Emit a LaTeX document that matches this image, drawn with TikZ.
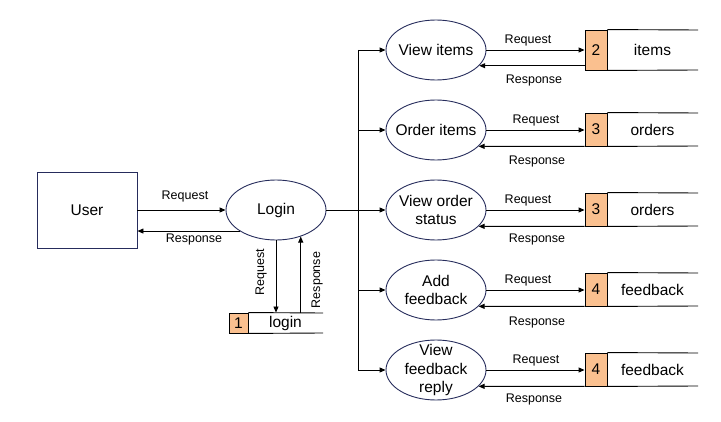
\documentclass[tikz,border=0pt]{standalone}
\usepackage{fontspec}
\setmainfont{Liberation Sans}
\usetikzlibrary{arrows.meta,shapes.geometric}
\definecolor{navy}{RGB}{38,44,92}
\definecolor{storefill}{RGB}{250,192,143}
\tikzset{
  proc/.style={ellipse,draw=navy,line width=0.9pt,minimum width=100pt,minimum height=60pt,inner xsep=-20pt,inner ysep=-20pt,align=center,font=\fontsize{15.5}{18.5}\selectfont},
  ent/.style={rectangle,draw=navy,line width=0.9pt,minimum width=100pt,minimum height=76pt,inner sep=0pt,font=\fontsize{15.5}{18.5}\selectfont},
  numbox/.style={rectangle,draw=black,fill=storefill,line width=0.9pt,inner sep=0pt,font=\fontsize{15.5}{18.5}\selectfont},
  stxt/.style={inner sep=0pt,font=\fontsize{15.5}{18.5}\selectfont},
  lbl/.style={inner sep=0pt,font=\fontsize{12.5}{14}\selectfont},
  arr/.style={line width=0.9pt,-{Triangle[length=6pt,width=5pt]}},
  ln/.style={line width=0.9pt},
}
\begin{document}
\begin{tikzpicture}[x=1pt,y=-1pt]
\useasboundingbox (0,0) rectangle (721,422);
% entities and processes
\node[ent] (user) at (87,210) {User};
\node[proc] (login) at (276,210) {Login};
\node[proc] (vi) at (436,50) {View items};
\node[proc] (oi) at (436,130) {Order items};
\node[proc] (vos) at (436,210) {View order\\status};
\node[proc] (af) at (436,290) {Add\\feedback};
\node[proc] (vfr) at (436,370) {View\\feedback\\reply};
% login store
\node[numbox,minimum width=19pt,minimum height=20pt] (n1) at (238.5,323) {1};
\node[stxt] (t1) at (285.5,323) {login};
\draw[ln] (n1.north east) -- (323,313);
\draw[ln] (n1.south east) -- (323,333);
% data stores
\node[numbox,minimum width=22pt,minimum height=40pt] (n2) at (596,50) {2};
\node[stxt] (t2) at (652.5,50) {items};
\draw[ln] (n2.north east) -- (698,30);
\draw[ln] (n2.south east) -- (698,70);
\node[numbox,minimum width=22pt,minimum height=33pt] (n3) at (596,129.5) {3};
\node[stxt] (t3) at (652.5,129.5) {orders};
\draw[ln] (n3.north east) -- (698,113);
\draw[ln] (n3.south east) -- (698,146);
\node[numbox,minimum width=22pt,minimum height=33pt] (n3b) at (596,209.5) {3};
\node[stxt] (t3b) at (652.5,209.5) {orders};
\draw[ln] (n3b.north east) -- (698,193);
\draw[ln] (n3b.south east) -- (698,226);
\node[numbox,minimum width=22pt,minimum height=33pt] (n4) at (596,289.5) {4};
\node[stxt] (t4) at (652.5,289.5) {feedback};
\draw[ln] (n4.north east) -- (698,273);
\draw[ln] (n4.south east) -- (698,306);
\node[numbox,minimum width=22pt,minimum height=33pt] (n4b) at (596,369.5) {4};
\node[stxt] (t4b) at (652.5,369.5) {feedback};
\draw[ln] (n4b.north east) -- (698,353);
\draw[ln] (n4b.south east) -- (698,386);
% user <-> login
\draw[arr] (user.east) -- (login.west);
\draw[arr] (login.-150) -- (user.east |- login.-150);
\node[lbl] (lq0) at (185,196.5) {Request};
\node[lbl] (lr0) at (194,239) {Response};
% login <-> login store
\draw[arr] (login.south) -- (login.south |- n1.north);
\draw[arr] (login.-47.6 |- n1.north) -- (login.-47.6);
\node[lbl,rotate=90] (lq1) at (261,272) {Request};
\node[lbl,rotate=90] (lr1) at (317,280) {Response};
% trunk
\coordinate (tj) at (358,210);
\coordinate (ttop) at (358,50);
\coordinate (tbot) at (358,370);
\draw[ln] (login.east) -- (tj);
\draw[ln] (ttop) -- (tbot);
\foreach \p in {vi,oi,vos,af,vfr}{
  \draw[arr] (ttop |- \p.west) -- (\p.west);
}
% process <-> stores
\draw[arr] (vi.east) -- (n2.west |- vi.east);
\draw[arr] (n2.west |- vi.-20.7) -- (vi.-20.7);
\draw[arr] (oi.east) -- (n3.west |- oi.east);
\draw[arr] (n3.south west) -- (oi.-21.5);
\draw[arr] (vos.east) -- (n3b.west |- vos.east);
\draw[arr] (n3b.south west) -- (vos.-21.5);
\draw[arr] (af.east) -- (n4.west |- af.east);
\draw[arr] (n4.south west) -- (af.-21.5);
\draw[arr] (vfr.east) -- (n4b.west |- vfr.east);
\draw[arr] (n4b.south west) -- (vfr.-21.5);
% labels
\node[lbl] (lq2) at (528,40.7) {Request};
\node[lbl] (lr2) at (534,80.7) {Response};
\node[lbl] (lq3) at (536,120.7) {Request};
\node[lbl] (lr3) at (537,161) {Response};
\node[lbl] (lq4) at (528,200.7) {Request};
\node[lbl] (lr4) at (537,239) {Response};
\node[lbl] (lq5) at (528,280.7) {Request};
\node[lbl] (lr5) at (537,322.7) {Response};
\node[lbl] (lq6) at (536,360.7) {Request};
\node[lbl] (lr6) at (534,399) {Response};
\end{tikzpicture}
\end{document}
